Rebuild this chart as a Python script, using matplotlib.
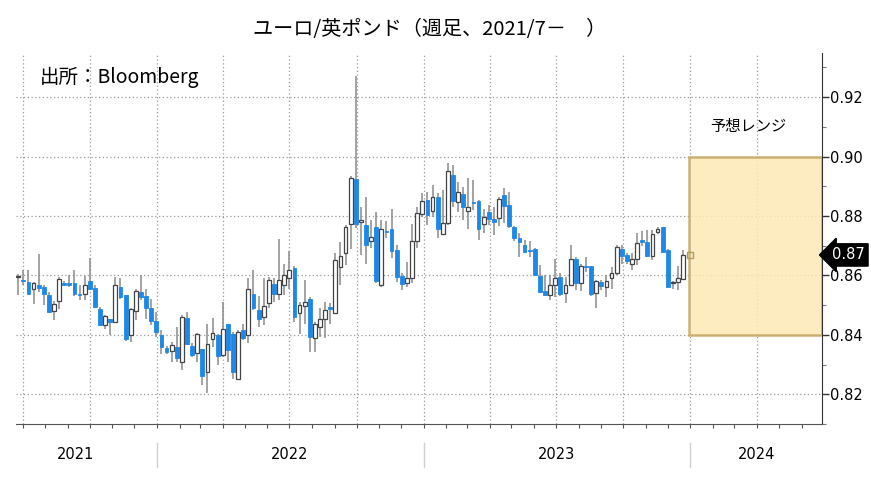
import matplotlib
matplotlib.use('Agg')
import matplotlib.pyplot as plt
import matplotlib.dates as mdates
import matplotlib.transforms as mtransforms
from matplotlib.patches import Rectangle
from matplotlib.ticker import MultipleLocator
import numpy as np
import pandas as pd

plt.rcParams['font.family'] = ['Noto Sans CJK JP', 'DejaVu Sans']

# weekly candles, EUR/GBP
week_start = '2021-06-25'
opens = [0.8594, 0.8585, 0.8579, 0.8556, 0.8569, 0.8562, 0.8533, 0.8479, 0.8514, 0.8576,
         0.8573, 0.8573, 0.8537, 0.8539, 0.8582, 0.8558, 0.8488, 0.8434, 0.8452, 0.8443,
         0.8562, 0.8533, 0.8398, 0.8479, 0.8545, 0.8530, 0.8490, 0.8445, 0.8398, 0.8355,
         0.8347, 0.8358, 0.8309, 0.8457, 0.8363, 0.8339, 0.8352, 0.8275, 0.8385, 0.8399,
         0.8331, 0.8435, 0.8404, 0.8253, 0.8416, 0.8399, 0.8536, 0.8483, 0.8461, 0.8508,
         0.8570, 0.8536, 0.8567, 0.8593, 0.8624, 0.8474, 0.8497, 0.8522, 0.8388, 0.8427,
         0.8452, 0.8493, 0.8472, 0.8629, 0.8674, 0.8773, 0.8924, 0.8779, 0.8770, 0.8717,
         0.8762, 0.8567, 0.8751, 0.8756, 0.8685, 0.8599, 0.8573, 0.8593, 0.8717, 0.8806,
         0.8854, 0.8818, 0.8865, 0.8738, 0.8775, 0.8938, 0.8848, 0.8873, 0.8817, 0.8846,
         0.8851, 0.8773, 0.8815, 0.8790, 0.8792, 0.8871, 0.8837, 0.8762, 0.8725, 0.8702,
         0.8686, 0.8690, 0.8598, 0.8548, 0.8534, 0.8567, 0.8596, 0.8542, 0.8567, 0.8655,
         0.8573, 0.8632, 0.8631, 0.8542, 0.8578, 0.8562, 0.8590, 0.8607, 0.8689, 0.8669,
         0.8638, 0.8657, 0.8718, 0.8713, 0.8665, 0.8747, 0.8762, 0.8685, 0.8575, 0.8579,
         0.8587]
highs = [0.8605, 0.8618, 0.8618, 0.8578, 0.8671, 0.8567, 0.8545, 0.8513, 0.8595, 0.8580,
         0.8603, 0.8618, 0.8567, 0.8599, 0.8658, 0.8569, 0.8494, 0.8468, 0.8454, 0.8595,
         0.8590, 0.8533, 0.8490, 0.8554, 0.8601, 0.8556, 0.8522, 0.8477, 0.8415, 0.8364,
         0.8377, 0.8426, 0.8466, 0.8478, 0.8371, 0.8407, 0.8354, 0.8438, 0.8458, 0.8404,
         0.8511, 0.8438, 0.8410, 0.8416, 0.8438, 0.8590, 0.8618, 0.8530, 0.8590, 0.8596,
         0.8592, 0.8722, 0.8640, 0.8682, 0.8631, 0.8511, 0.8584, 0.8528, 0.8444, 0.8492,
         0.8511, 0.8506, 0.8674, 0.8713, 0.8770, 0.8935, 0.9270, 0.8831, 0.8865, 0.8787,
         0.8815, 0.8787, 0.8784, 0.8822, 0.8702, 0.8607, 0.8646, 0.8773, 0.8831, 0.8879,
         0.8882, 0.8904, 0.8876, 0.8888, 0.8978, 0.8972, 0.8916, 0.8899, 0.8927, 0.8922,
         0.8854, 0.8822, 0.8837, 0.8831, 0.8865, 0.8893, 0.8882, 0.8766, 0.8742, 0.8719,
         0.8717, 0.8694, 0.8635, 0.8601, 0.8601, 0.8657, 0.8607, 0.8596, 0.8702, 0.8663,
         0.8638, 0.8663, 0.8633, 0.8585, 0.8585, 0.8601, 0.8629, 0.8702, 0.8702, 0.8674,
         0.8674, 0.8742, 0.8750, 0.8753, 0.8753, 0.8764, 0.8764, 0.8688, 0.8582, 0.8631,
         0.8685]
lows = [0.8533, 0.8567, 0.8536, 0.8505, 0.8545, 0.8499, 0.8475, 0.8451, 0.8486, 0.8565,
        0.8562, 0.8531, 0.8516, 0.8516, 0.8550, 0.8490, 0.8432, 0.8420, 0.8400, 0.8441,
        0.8522, 0.8381, 0.8377, 0.8449, 0.8516, 0.8454, 0.8432, 0.8392, 0.8336, 0.8336,
        0.8307, 0.8307, 0.8283, 0.8365, 0.8326, 0.8309, 0.8230, 0.8204, 0.8360, 0.8298,
        0.8326, 0.8309, 0.8253, 0.8249, 0.8382, 0.8371, 0.8483, 0.8425, 0.8433, 0.8492,
        0.8511, 0.8517, 0.8534, 0.8553, 0.8444, 0.8402, 0.8438, 0.8343, 0.8343, 0.8393,
        0.8388, 0.8438, 0.8470, 0.8567, 0.8635, 0.8688, 0.8758, 0.8669, 0.8640, 0.8691,
        0.8573, 0.8562, 0.8725, 0.8660, 0.8579, 0.8551, 0.8562, 0.8573, 0.8694, 0.8798,
        0.8770, 0.8798, 0.8725, 0.8736, 0.8770, 0.8831, 0.8815, 0.8787, 0.8755, 0.8820,
        0.8719, 0.8742, 0.8770, 0.8736, 0.8766, 0.8778, 0.8758, 0.8715, 0.8663, 0.8674,
        0.8663, 0.8598, 0.8542, 0.8530, 0.8517, 0.8528, 0.8530, 0.8508, 0.8564, 0.8551,
        0.8547, 0.8610, 0.8530, 0.8492, 0.8551, 0.8528, 0.8556, 0.8601, 0.8640, 0.8640,
        0.8618, 0.8635, 0.8700, 0.8663, 0.8652, 0.8740, 0.8676, 0.8560, 0.8556, 0.8551,
        0.8584]
closes = [0.8597, 0.8582, 0.8539, 0.8575, 0.8559, 0.8536, 0.8477, 0.8503, 0.8588, 0.8568,
          0.8567, 0.8536, 0.8535, 0.8569, 0.8556, 0.8494, 0.8434, 0.8463, 0.8443, 0.8567,
          0.8528, 0.8386, 0.8486, 0.8548, 0.8528, 0.8490, 0.8445, 0.8409, 0.8358, 0.8343,
          0.8367, 0.8321, 0.8461, 0.8369, 0.8331, 0.8402, 0.8261, 0.8369, 0.8405, 0.8329,
          0.8421, 0.8348, 0.8275, 0.8410, 0.8388, 0.8554, 0.8491, 0.8454, 0.8497, 0.8584,
          0.8539, 0.8584, 0.8600, 0.8618, 0.8461, 0.8502, 0.8510, 0.8393, 0.8436, 0.8455,
          0.8483, 0.8488, 0.8652, 0.8665, 0.8764, 0.8927, 0.8773, 0.8786, 0.8702, 0.8728,
          0.8582, 0.8755, 0.8747, 0.8682, 0.8596, 0.8570, 0.8593, 0.8717, 0.8811, 0.8852,
          0.8803, 0.8865, 0.8755, 0.8775, 0.8953, 0.8852, 0.8882, 0.8831, 0.8829, 0.8843,
          0.8755, 0.8798, 0.8790, 0.8781, 0.8856, 0.8834, 0.8766, 0.8725, 0.8713, 0.8680,
          0.8683, 0.8601, 0.8545, 0.8534, 0.8567, 0.8590, 0.8539, 0.8567, 0.8654, 0.8573,
          0.8633, 0.8628, 0.8537, 0.8582, 0.8564, 0.8582, 0.8607, 0.8697, 0.8665, 0.8648,
          0.8654, 0.8710, 0.8714, 0.8665, 0.8738, 0.8756, 0.8680, 0.8562, 0.8577, 0.8593,
          0.8669]

range_low, range_high = 0.84, 0.90
range_start, range_end = '2023-12-30', '2024-06-29'
last_price = 0.8669
year_labels = ['2021', '2022', '2023', '2024']
year_label_pos = ['2021-09-12', '2022-07-02', '2023-07-02', '2024-03-31']
year_bounds = ['2022-01-01', '2023-01-01', '2024-01-01']

dates = pd.date_range(week_start, periods=len(opens), freq='7D')
x = mdates.date2num(dates)
o = np.array(opens); h = np.array(highs); l = np.array(lows); c = np.array(closes)
up = c >= o

fig = plt.figure(figsize=(8.71, 4.79), dpi=100)
ax = fig.add_axes([16/871, 1-424/479, (822-16)/871, (424-52.6)/479])

blue = '#1E88E8'
# wicks
ax.vlines(x, l, h, color='#8a8a8a', lw=1.1, zorder=2)
body_bottom = np.minimum(o, c)
body_h = np.maximum(np.abs(c - o), 0.0003)
ax.bar(x[~up], body_h[~up], bottom=body_bottom[~up], width=5.2, color=blue,
       edgecolor=blue, lw=0.6, zorder=3)
ax.bar(x[up], body_h[up], bottom=body_bottom[up], width=5.2, color='white',
       edgecolor='#444444', lw=0.9, zorder=3)

# forecast range box
x0 = mdates.datestr2num(range_start)
x1 = mdates.datestr2num(range_end)
ax.add_patch(Rectangle((x0, range_low), x1 - x0, range_high - range_low,
                       facecolor='#FDE9B4', edgecolor='#C4A661', lw=1.8, alpha=0.85, zorder=1))
ax.plot([x0 + 1.5], [last_price], marker='s', ms=4, mfc='none', mec='#B89A55', zorder=4)

ax.set_xlim(mdates.datestr2num('2021-06-22'), x1)
ax.set_ylim(0.81, 0.935)

# grid
ax.xaxis.set_major_locator(mdates.MonthLocator(bymonth=[1, 4, 7, 10]))
ax.xaxis.set_minor_locator(mdates.MonthLocator())
ax.xaxis.set_major_formatter(plt.NullFormatter())
ax.yaxis.set_major_locator(MultipleLocator(0.02))
ax.yaxis.set_minor_locator(MultipleLocator(0.01))
ax.yaxis.tick_right()
ax.grid(True, which='major', color='#9a9a9a', ls=(0, (1, 2)), lw=0.9)
ax.set_axisbelow(True)
ax.tick_params(axis='y', which='major', length=5, width=1, colors='#333333',
               labelsize=10.5, labelcolor='black', pad=1)
ax.tick_params(axis='y', which='minor', length=3, width=0.8, colors='#777777')
ax.tick_params(axis='x', which='both', length=3, width=0.8, colors='#555555')
for lab in ax.get_yticklabels():
    lab.set_family('DejaVu Sans')
ax.yaxis.set_major_formatter(plt.FuncFormatter(lambda v, p: f'{v:.2f}'))

for side in ['left', 'top']:
    ax.spines[side].set_visible(False)
ax.spines['right'].set_color('#333333')
ax.spines['bottom'].set_color('#555555')

# last price tag
ax.text(1.012, last_price, f'{last_price:.2f}', transform=ax.get_yaxis_transform(),
        ha='left', va='center', color='white', fontsize=10.5, family='DejaVu Sans',
        bbox=dict(boxstyle='larrow,pad=0.25', fc='black', ec='black'), zorder=6, clip_on=False)

# year labels and separators
trans = mtransforms.blended_transform_factory(ax.transData, ax.transAxes)
for lab, pos in zip(year_labels, year_label_pos):
    ax.text(mdates.datestr2num(pos), -0.083, lab, transform=trans, ha='center', va='center',
            fontsize=10.5, family='DejaVu Sans')
for b in year_bounds:
    ax.plot([mdates.datestr2num(b)] * 2, [-0.05, -0.116], transform=trans, color='#d0d0d0',
            lw=1, clip_on=False)

fig.text(430/871, 1-30/479, 'ユーロ/英ポンド（週足、2021/7－　）', ha='center', va='center', fontsize=14.5)
fig.text(40/871, 1-77/479, '出所：Bloomberg', ha='left', va='center', fontsize=14)
fig.text(748/871, 1-127/479, '予想レンジ', ha='center', va='center', fontsize=11)

fig.savefig('out.png', dpi=100)
